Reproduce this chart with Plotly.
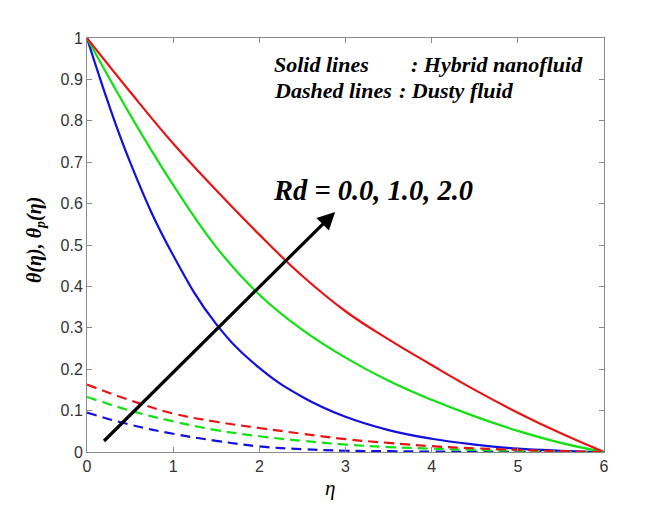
import plotly.graph_objects as go

# eta grid and profiles
eta = [0, 0.5, 1, 1.5, 2, 2.5, 3, 3.5, 4, 4.5, 5, 5.5, 6]

theta_rd0 = [1, 0.70, 0.475, 0.309, 0.203, 0.133, 0.085, 0.053, 0.032, 0.018, 0.008, 0.003, 0]
theta_rd1 = [1, 0.815, 0.645, 0.495, 0.38, 0.295, 0.228, 0.172, 0.126, 0.086, 0.051, 0.022, 0]
theta_rd2 = [1, 0.87, 0.745, 0.632, 0.525, 0.425, 0.34, 0.272, 0.21, 0.15, 0.095, 0.045, 0]

theta_p_rd0 = [0.095, 0.066, 0.044, 0.027, 0.0135, 0.007, 0.003, 0.002, 0.001, 0.0005, 0.0002, 0.0001, 0]
theta_p_rd1 = [0.133, 0.1, 0.074, 0.053, 0.038, 0.027, 0.018, 0.012, 0.008, 0.005, 0.003, 0.001, 0]
theta_p_rd2 = [0.163, 0.125, 0.093, 0.073, 0.058, 0.044, 0.031, 0.022, 0.014, 0.009, 0.005, 0.002, 0]

colors = ["#1111dd", "#11e011", "#e81414"]

fig = go.Figure()
for ys, c in zip([theta_rd0, theta_rd1, theta_rd2], colors):
    fig.add_trace(go.Scatter(x=eta, y=ys, mode="lines",
                             line=dict(color=c, width=2.2, shape="spline", smoothing=1.2)))
for ys, c in zip([theta_p_rd0, theta_p_rd1, theta_p_rd2], colors):
    fig.add_trace(go.Scatter(x=eta, y=ys, mode="lines",
                             line=dict(color=c, width=2.2, dash="10px,6px", shape="spline", smoothing=1.2)))

serif = "Liberation Serif"
txt = dict(family=serif, size=22, color="black")

fig.add_annotation(x=2.88, y=0.58, ax=0.18, ay=0.023, xref="x", yref="y", axref="x", ayref="y",
                   text="", showarrow=True, arrowhead=2, arrowsize=1.1, arrowwidth=3.2, arrowcolor="black")
fig.add_annotation(x=2.13, y=0.632, xref="x", yref="y", xanchor="left", showarrow=False,
                   text="<b><i>Rd = 0.0, 1.0, 2.0</i></b>", font=dict(family=serif, size=28.5, color="black"))
fig.add_annotation(x=2.15, y=0.935, xref="x", yref="y", xanchor="left", showarrow=False,
                   text="<b><i>Solid lines</i></b>", font=txt)
fig.add_annotation(x=3.74, y=0.935, xref="x", yref="y", xanchor="left", showarrow=False,
                   text="<b><i>: Hybrid nanofluid</i></b>", font=txt)
fig.add_annotation(x=2.15, y=0.873, xref="x", yref="y", xanchor="left", showarrow=False,
                   text="<b><i>Dashed lines</i></b>", font=txt)
fig.add_annotation(x=3.6, y=0.873, xref="x", yref="y", xanchor="left", showarrow=False,
                   text="<b><i>: Dusty fluid</i></b>", font=txt)

# axis titles
fig.add_annotation(x=0, y=0.512, xref="paper", yref="paper", xanchor="center", yanchor="middle",
                   xshift=-52, showarrow=False, textangle=-90,
                   text="<b><i>θ(η), θ<sub>p</sub>(η)</i></b>", font=dict(family=serif, size=20, color="black"))
fig.add_annotation(x=2.82, y=0, xref="x", yref="paper", yanchor="middle", yshift=-36, showarrow=False,
                   text="<i>η</i>", font=dict(family=serif, size=21, color="black"))

axis_style = dict(showgrid=False, zeroline=False, showline=True, linecolor="#8a8a8a", linewidth=1,
                  mirror="ticks", ticks="inside", ticklen=5, tickcolor="#8a8a8a",
                  tickfont=dict(family="Liberation Sans", size=16, color="#333333"))

fig.update_xaxes(range=[0, 6], dtick=1, **axis_style)
fig.update_yaxes(range=[0, 1], dtick=0.1, **axis_style)

# page body adds an 8px offset, so the figure is a little smaller than the window
fig.update_layout(width=660, height=501, showlegend=False,
                  paper_bgcolor="white", plot_bgcolor="white",
                  margin=dict(l=79, r=64, t=30, b=57))

fig.write_html("out.html")
